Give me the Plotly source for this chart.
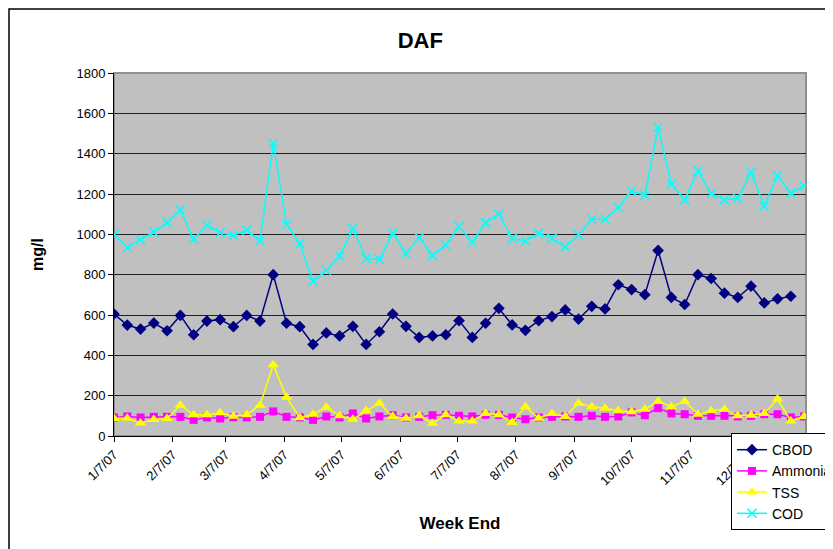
import pandas as pd
import plotly.graph_objects as go

# ---- data ----
week_end = pd.date_range("2007-01-07", periods=53, freq="7D")

cbod = [605, 550, 530, 560, 522, 598, 502, 570, 577, 542, 598, 570, 800, 559, 542, 454,
        511, 496, 544, 454, 517, 605, 544, 489, 496, 502, 572, 489, 559, 633, 551, 524,
        572, 592, 625, 580, 643, 630, 750, 726, 701, 920, 687, 652, 800, 781, 708, 687,
        743, 660, 680, 693]
ammonia = [92, 97, 92, 95, 95, 95, 80, 92, 87, 93, 92, 95, 122, 95, 92, 80, 97, 92,
           112, 87, 97, 103, 92, 95, 103, 105, 100, 97, 105, 105, 92, 83, 92, 95, 97,
           95, 100, 95, 97, 117, 103, 138, 112, 108, 100, 100, 100, 97, 100, 108, 108, 92, 97]
tss = [87, 88, 65, 82, 87, 153, 105, 105, 115, 98, 105, 153, 353, 192, 90, 108, 142, 100,
       83, 125, 162, 97, 88, 100, 63, 105, 75, 75, 112, 105, 67, 145, 88, 112, 97,
       162, 145, 138, 125, 120, 133, 172, 145, 172, 108, 125, 133, 100, 103, 112, 183, 75, 97]
cod = [1000, 934, 974, 1011, 1058, 1121, 975, 1045, 1008, 995, 1021, 967, 1450, 1050, 954,
       768, 822, 892, 1028, 879, 876, 1005, 905, 984, 896, 947, 1038, 962, 1058, 1100, 980,
       967, 1005, 980, 939, 997, 1075, 1075, 1133, 1215, 1194, 1530, 1249, 1171, 1315, 1202,
       1171, 1179, 1307, 1141, 1290, 1204, 1240]

tick_dates = ["2007-%02d-07" % m for m in range(1, 13)]
tick_labels = ["%d/7/07" % m for m in range(1, 13)]
y_ticks = list(range(0, 1801, 200))

FONT = "Liberation Sans, Arial, sans-serif"

fig = go.Figure()
series = [
    ("CBOD", week_end[:len(cbod)], cbod, "#000080", "diamond", 9),
    ("Ammonia", week_end[:len(ammonia)], ammonia, "#FF00FF", "square", 8),
    ("TSS", week_end[:len(tss)], tss, "#FFFF00", "triangle-up", 10),
    ("COD", week_end[:len(cod)], cod, "#00FFFF", "x-thin", 9),
]
for name, x, y, color, sym, size in series:
    marker = dict(symbol=sym, size=size, color=color)
    if sym == "x-thin":
        marker["line"] = dict(color=color, width=1.6)
    fig.add_trace(go.Scatter(
        x=x, y=y, name=name, mode="lines+markers", legendgroup=name,
        line=dict(color=color, width=1.5), marker=marker,
    ))

fig.update_layout(
    width=833, height=549,
    margin=dict(l=106, r=35, t=65, b=121, autoexpand=False),
    paper_bgcolor="white",
    plot_bgcolor="#C0C0C0",
    font=dict(family=FONT, size=13, color="black"),
    title=dict(text="<b>DAF</b>", x=0.495, xref="container", y=0.9417, yref="container",
               xanchor="center", yanchor="middle", font=dict(size=22, family=FONT)),
    showlegend=True,
    legend=dict(x=0.8916, y=0.008, xanchor="left", yanchor="top",
                bgcolor="white", bordercolor="black", borderwidth=1,
                font=dict(size=14, family=FONT), tracegroupgap=10,
                traceorder="normal"),
    xaxis=dict(
        type="date", range=["2007-01-07", "2008-01-07"], automargin=False,
        tickmode="array", tickvals=tick_dates, ticktext=tick_labels,
        tickangle=-45, ticks="outside", ticklen=5, tickcolor="black",
        showgrid=False, zeroline=False,
        showline=True, linecolor="black", linewidth=1,
        tickfont=dict(size=13, family=FONT),
        title=dict(text="<b>Week End</b>", font=dict(size=17, family=FONT), standoff=29),
    ),
    yaxis=dict(
        range=[0, 1800], tickmode="array", tickvals=y_ticks, automargin=False,
        ticks="outside", ticklen=5, tickcolor="black",
        showgrid=True, gridcolor="#202020", gridwidth=1,
        zeroline=False, showline=True, linecolor="black", linewidth=1,
        tickfont=dict(size=13, family=FONT),
        title=dict(text="<b>mg/l</b>", font=dict(size=16, family=FONT), standoff=28),
    ),
    shapes=[
        dict(type="rect", xref="paper", yref="paper", x0=0, x1=1, y0=0, y1=1,
             line=dict(color="#909090", width=2), layer="below"),
        dict(type="rect", xref="paper", yref="paper",
             x0=(1 - 106) / 692, x1=(845 - 106) / 692,
             y0=(428 - 560) / 363, y1=(428 - 1) / 363,
             line=dict(color="black", width=1.5), layer="below"),
    ],
)

fig.write_html("out.html")
